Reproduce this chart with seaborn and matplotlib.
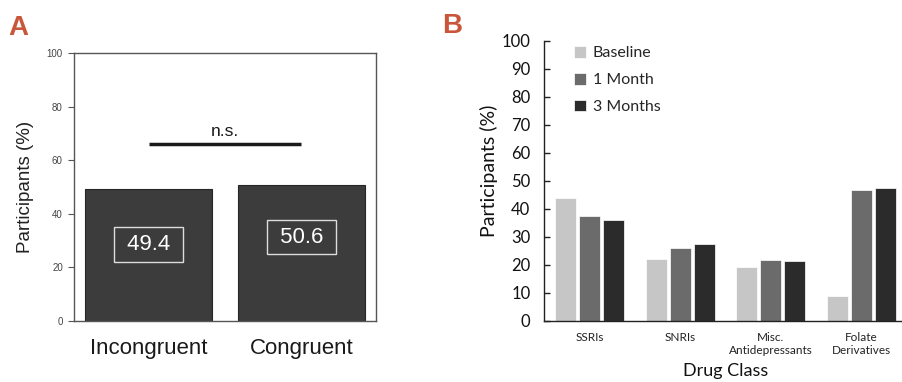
import matplotlib
matplotlib.use("Agg")
import matplotlib.pyplot as plt
import seaborn as sns
import pandas as pd

# ---- data ----
a_categories = ["Incongruent", "Congruent"]
a_values = [49.4, 50.6]
a_labels = ["49.4", "50.6"]
a_yticks = [0, 20, 40, 60, 80, 100]

b_categories = ["SSRIs", "SNRIs", "Misc.\nAntidepressants", "Folate\nDerivatives"]
b_series = ["Baseline", "1 Month", "3 Months"]
b_baseline = [43.8, 22.0, 19.4, 8.9]
b_month1 = [37.6, 26.0, 21.8, 46.7]
b_month3 = [36.2, 27.6, 21.4, 47.6]
b_yticks = [0, 10, 20, 30, 40, 50, 60, 70, 80, 90, 100]

sns.set_style("white")
plt.rcParams["font.family"] = ["Liberation Sans", "DejaVu Sans"]

fig = plt.figure(figsize=(9.02, 3.82), dpi=100)

# ---------------- Panel A ----------------
axA = fig.add_axes([0.082, 0.160, 0.335, 0.701])
dfA = pd.DataFrame({"cat": a_categories, "val": a_values})
sns.barplot(data=dfA, x="cat", y="val", color="#3c3c3c", saturation=1,
            width=0.83, edgecolor="#262626", linewidth=0.8, ax=axA)
axA.set_xlim(-0.49, 1.49)
axA.set_ylim(0, 100)
axA.set_yticks(a_yticks)
axA.tick_params(axis="y", labelsize=7, labelcolor="#444444", direction="out",
                length=4.5, width=0.8, color="#555555", left=True)
axA.tick_params(axis="x", labelsize=16, labelcolor="#1a1a1a", length=0, pad=12)
axA.set_xlabel("")
axA.set_ylabel("Participants (%)", fontsize=13.5, color="#222222", labelpad=9)
for s in axA.spines.values():
    s.set_visible(True)
    s.set_color("#555555")
    s.set_linewidth(1.0)

# value boxes
label_y = [28.5, 31.3]
for i, (lab, yy) in enumerate(zip(a_labels, label_y)):
    axA.text(i, yy, " " + lab + " ", ha="center", va="center", fontsize=16,
             color="white",
             bbox=dict(boxstyle="square,pad=0.3", fc="none", ec="#dddddd", lw=1))

# n.s. bracket
axA.plot([0, 1], [66.2, 66.2], color="#1a1a1a", lw=2.5, solid_capstyle="butt")
axA.text(0.5, 68.0, "n.s.", ha="center", va="bottom", fontsize=12.5, color="#1a1a1a")

# ---------------- Panel B ----------------
bfont = ["Lato", "DejaVu Sans"]
axB = fig.add_axes([0.6034, 0.160, 0.4018, 0.7327])
dfB = pd.DataFrame({
    "cat": b_categories * 3,
    "series": [b_series[0]] * 4 + [b_series[1]] * 4 + [b_series[2]] * 4,
    "val": b_baseline + b_month1 + b_month3,
})
palette = ["#c6c6c6", "#6b6b6b", "#2b2b2b"]
sns.barplot(data=dfB, x="cat", y="val", hue="series", hue_order=b_series,
            palette=palette, saturation=1, width=0.8, gap=0.13,
            edgecolor="white", linewidth=0.5, ax=axB)
axB.set_xlim(-0.5, 3.5)
axB.set_ylim(0, 100)
axB.set_yticks(b_yticks)
sns.despine(ax=axB, top=True, right=True)
axB.spines["left"].set_color("#222222")
axB.spines["bottom"].set_color("#222222")
axB.spines["left"].set_linewidth(1.0)
axB.spines["bottom"].set_linewidth(1.0)
axB.tick_params(axis="y", direction="in", length=4, width=1, color="#222222",
                labelsize=12, labelcolor="#111111", left=True, pad=10)
axB.tick_params(axis="x", length=0, labelsize=8.5, labelcolor="#222222", pad=8)
for lab in axB.get_yticklabels() + axB.get_xticklabels():
    lab.set_family(bfont)
axB.set_ylabel("Participants (%)", fontsize=14, family=bfont, color="#111111")
axB.yaxis.set_label_coords(-0.128, 0.536)
axB.set_xlabel("Drug Class", fontsize=13, family=bfont, color="#111111", labelpad=5)

leg = axB.legend(loc="upper left", bbox_to_anchor=(0.065, 1.005), frameon=False,
                 handlelength=0.75, handleheight=0.75, handletextpad=0.4,
                 labelspacing=0.78, borderaxespad=0.0,
                 prop={"family": bfont, "size": 11.5})

# panel letters
fig.text(0.009, 0.908, "A", fontsize=20, fontweight="bold", color="#c9553a")
fig.text(0.490, 0.914, "B", fontsize=20, fontweight="bold", color="#c9553a")

fig.savefig("out.png", dpi=100)
